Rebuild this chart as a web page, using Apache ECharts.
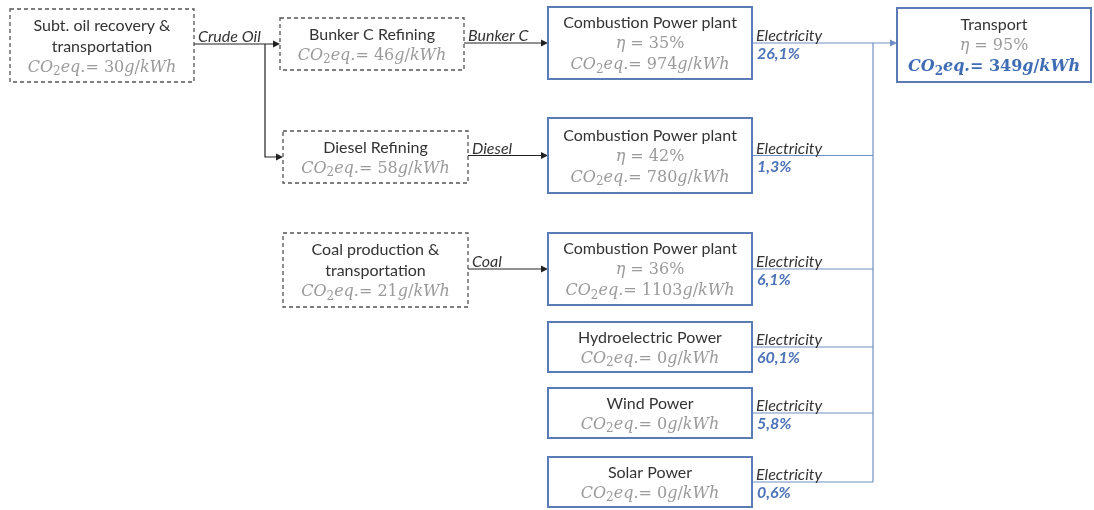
<!DOCTYPE html>
<html>
<head>
<meta charset="utf-8">
<title>CO2eq chain</title>
<script src="https://cdn.jsdelivr.net/npm/echarts/dist/echarts.min.js"></script>
<style>
  html, body { margin: 0; padding: 0; background: #fff; }
  #chart { width: 1094px; height: 510px; }
</style>
</head>
<body>
<div id="chart"></div>
<script>
// chain data
const nodeTitles = ['Subt. oil recovery &\ntransportation', 'Bunker C Refining', 'Diesel Refining',
  'Coal production &\ntransportation', 'Combustion Power plant', 'Combustion Power plant',
  'Combustion Power plant', 'Hydroelectric Power', 'Wind Power', 'Solar Power', 'Transport']
const nodeKinds = ['fuel', 'fuel', 'fuel', 'fuel', 'plant', 'plant', 'plant', 'plant', 'plant', 'plant', 'end']
const co2Values = [30, 46, 58, 21, 974, 780, 1103, 0, 0, 0, 349]
const efficiencies = [null, null, null, null, 35, 42, 36, null, null, null, 95]
const flowLabels = ['Crude Oil', 'Bunker C', 'Diesel', 'Coal']
// [from, to, flow label index]
const fuelLinks = [[0, 1, 0], [0, 2, null], [1, 4, 1], [2, 5, 2], [3, 6, 3]]
const plantNodes = [4, 5, 6, 7, 8, 9]
const electricityShares = [26.1, 1.3, 6.1, 60.1, 5.8, 0.6]
const endNode = 10

// layout in diagram units: [left, top, right, bottom]
const boxes = [
  [10, 9, 194, 82], [280, 18, 464, 70], [283, 131, 468, 183], [283, 233, 468, 307],
  [548, 7, 752, 79], [548, 118, 752, 193], [548, 233, 752, 305],
  [548, 322, 752, 372], [548, 388, 752, 438], [548, 457, 752, 507],
  [897, 8, 1091, 82]
]
const branchX = 265
const busX = 873

const BLUE = '#5a7cb6'
const LINE_BLUE = '#6f8fc4'
const DARK = '#222'

const sans = 'Lato'
const serif = 'DejaVu Serif'
const richStyles = {
  t: { fontFamily: sans, fontSize: 16, fill: '#333', lineHeight: 21 },
  c: { fontFamily: serif, fontStyle: 'italic', fontSize: 16, fill: '#9a9a9a', lineHeight: 21 },
  n: { fontFamily: serif, fontSize: 16, fill: '#9a9a9a', lineHeight: 21 },
  s: { fontFamily: serif, fontSize: 12, fill: '#9a9a9a', lineHeight: 14, verticalAlign: 'bottom' },
  C: { fontFamily: serif, fontStyle: 'italic', fontWeight: 'bold', fontSize: 16, fill: '#3f6db5', lineHeight: 21 },
  N: { fontFamily: serif, fontWeight: 'bold', fontSize: 16, fill: '#3f6db5', lineHeight: 21 },
  S: { fontFamily: serif, fontWeight: 'bold', fontSize: 12, fill: '#3f6db5', lineHeight: 14, verticalAlign: 'bottom' },
  fl: { fontFamily: sans, fontStyle: 'italic', fontSize: 16, fill: '#333' },
  pc: { fontFamily: sans, fontStyle: 'italic', fontWeight: 'bold', fontSize: 16, fill: '#4a72b8' }
}

function co2Line(v, bold) {
  const c = bold ? 'C' : 'c', n = bold ? 'N' : 'n', s = bold ? 'S' : 's'
  return `{${c}|CO}{${s}|2}{${c}|eq.}{${n}|= ${v}}{${c}|g}{${n}|/}{${c}|kWh}`
}

function boxText(i) {
  const lines = nodeTitles[i].split('\n').map(l => `{t|${l}}`)
  if (efficiencies[i] != null) lines.push(`{c|η}{n| = ${efficiencies[i]}%}`)
  lines.push(co2Line(co2Values[i], nodeKinds[i] === 'end'))
  return lines.join('\n')
}

function cy(i) { return (boxes[i][1] + boxes[i][3]) / 2 }

// build the connector paths from the layout
const links = []
fuelLinks.forEach(([a, b, f]) => {
  if (f == null) {
    links.push({ points: [[branchX, cy(a + 1)], [branchX, cy(b)], [boxes[b][0], cy(b)]], color: DARK, arrow: true })
  } else {
    links.push({ points: [[boxes[a][2], cy(b)], [boxes[b][0], cy(b)]], color: DARK, arrow: true, label: flowLabels[f], labelStyle: 'fl' })
  }
})
plantNodes.forEach((p, k) => {
  const end = k === 0 ? boxes[endNode][0] : busX
  links.push({ points: [[boxes[p][2], cy(p)], [end, cy(p)]], color: LINE_BLUE, arrow: k === 0, label: 'Electricity', labelStyle: 'fl',
    share: electricityShares[k].toFixed(1).replace('.', ',') + '%' })
})
links.push({ points: [[busX, cy(plantNodes[0])], [busX, cy(plantNodes[plantNodes.length - 1])]], color: LINE_BLUE, arrow: false })

function renderBox(params, api) {
  const i = api.value(0)
  const b = boxes[i]
  const p0 = api.coord([b[0], b[1]])
  const p1 = api.coord([b[2], b[3]])
  const dashed = nodeKinds[i] === 'fuel'
  return {
    type: 'group',
    children: [
      {
        type: 'rect',
        shape: { x: p0[0], y: p0[1], width: p1[0] - p0[0], height: p1[1] - p0[1] },
        style: { fill: '#fff', stroke: dashed ? '#555' : BLUE, lineWidth: dashed ? 1.3 : 2, lineDash: dashed ? [4, 3] : null }
      },
      {
        type: 'text',
        style: { text: boxText(i), x: (p0[0] + p1[0]) / 2, y: (p0[1] + p1[1]) / 2 + 1, align: 'center', verticalAlign: 'middle', rich: richStyles }
      }
    ]
  }
}

function renderLink(params, api) {
  const L = links[api.value(0)]
  const pts = L.points.map(p => api.coord(p))
  const children = []
  const e = pts[pts.length - 1]
  const linePts = pts.slice()
  if (L.arrow) linePts[linePts.length - 1] = [e[0] - 5, e[1]]
  children.push({ type: 'polyline', shape: { points: linePts }, style: { stroke: L.color, lineWidth: 1.2, fill: 'none' } })
  if (L.arrow) {
    children.push({ type: 'polygon', shape: { points: [[e[0], e[1]], [e[0] - 7, e[1] - 3.5], [e[0] - 7, e[1] + 3.5]] }, style: { fill: L.color } })
  }
  if (L.label) {
    children.push({ type: 'text', style: { text: `{${L.labelStyle}|${L.label}}`, rich: richStyles, x: pts[0][0] + 4, y: pts[0][1] + 1, align: 'left', verticalAlign: 'bottom' } })
  }
  if (L.share) {
    children.push({ type: 'text', style: { text: `{pc|${L.share}}`, rich: richStyles, x: pts[0][0] + 5, y: pts[0][1] + 3, align: 'left', verticalAlign: 'top' } })
  }
  return { type: 'group', children: children }
}

const chart = echarts.init(document.getElementById('chart'))
chart.setOption({
  animation: false,
  backgroundColor: '#fff',
  grid: { left: 0, right: 0, top: 0, bottom: 0 },
  xAxis: { type: 'value', min: 0, max: 1094, show: false },
  yAxis: { type: 'value', min: 0, max: 510, inverse: true, show: false },
  series: [
    {
      type: 'custom',
      name: 'links',
      silent: true,
      clip: false,
      renderItem: renderLink,
      data: links.map((l, i) => [i])
    },
    {
      type: 'custom',
      name: 'nodes',
      silent: true,
      clip: false,
      renderItem: renderBox,
      data: boxes.map((b, i) => [i])
    }
  ]
})
window.addEventListener('resize', () => chart.resize())
</script>
</body>
</html>
